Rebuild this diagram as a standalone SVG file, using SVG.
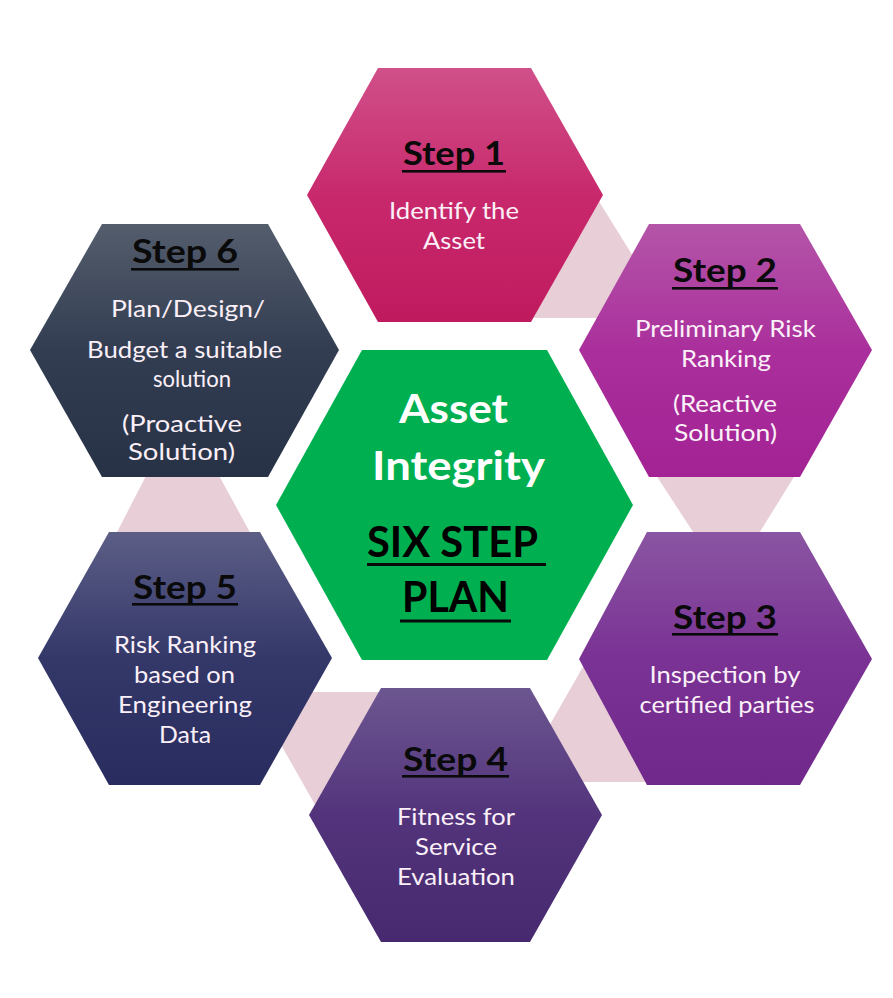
<svg xmlns="http://www.w3.org/2000/svg" width="893" height="998" viewBox="0 0 893 998">
<style>
  .head { font-family: Lato, "Open Sans", "Liberation Sans", sans-serif; font-weight: 700; font-size: 32px; fill: #0a0a0a; text-anchor: middle; }
  .body { font-family: Lato, "Open Sans", "Liberation Sans", sans-serif; font-weight: 400; font-size: 24px; fill: #fbf0f8; text-anchor: middle; }
  .ctitle { font-family: Lato, "Open Sans", "Liberation Sans", sans-serif; font-weight: 700; font-size: 41px; fill: #ffffff; text-anchor: middle; }
  .cplan { font-family: Lato, "Open Sans", "Liberation Sans", sans-serif; font-weight: 700; font-size: 42px; fill: #000000; text-anchor: middle; }
  .ul { fill: #0a0a0a; }
  .conn { fill: #e8ced7; }
</style>
<defs>
  <linearGradient id="g1" x1="0" y1="0" x2="0" y2="1">
    <stop offset="0" stop-color="#d0508a"/><stop offset="0.5" stop-color="#c8296c"/><stop offset="1" stop-color="#c01a5f"/>
  </linearGradient>
  <linearGradient id="g2" x1="0" y1="0" x2="0" y2="1">
    <stop offset="0" stop-color="#b455a8"/><stop offset="0.5" stop-color="#aa2f9c"/><stop offset="1" stop-color="#a32294"/>
  </linearGradient>
  <linearGradient id="g3" x1="0" y1="0" x2="0" y2="1">
    <stop offset="0" stop-color="#8a55a2"/><stop offset="0.5" stop-color="#7a3294"/><stop offset="1" stop-color="#70288b"/>
  </linearGradient>
  <linearGradient id="g4" x1="0" y1="0" x2="0" y2="1">
    <stop offset="0" stop-color="#6c5690"/><stop offset="0.5" stop-color="#53347c"/><stop offset="1" stop-color="#46296e"/>
  </linearGradient>
  <linearGradient id="g5" x1="0" y1="0" x2="0" y2="1">
    <stop offset="0" stop-color="#5c5e86"/><stop offset="0.5" stop-color="#343869"/><stop offset="1" stop-color="#292c5e"/>
  </linearGradient>
  <linearGradient id="g6" x1="0" y1="0" x2="0" y2="1">
    <stop offset="0" stop-color="#535d6c"/><stop offset="0.5" stop-color="#333d52"/><stop offset="1" stop-color="#283246"/>
  </linearGradient>
</defs>
<rect width="893" height="998" fill="#ffffff"/>

<g id="connectors">
  <polygon class="conn" points="595,195 636,261 610,318 533,318 560,250"/>
  <polygon class="conn" points="654,472 797,472 758,535 695,535"/>
  <polygon class="conn" points="588,658 548,728 575,782 650,782"/>
  <polygon class="conn" points="300,692 390,692 330,800 318,810 276,736"/>
  <polygon class="conn" points="148,472 217,472 252,536 115,536"/>
</g>

<g id="step1">
  <polygon points="378,68 531,68 603,195 531,322 378,322 307,195" fill="url(#g1)"/>
  <text class="head" x="454" y="165" textLength="102" lengthAdjust="spacingAndGlyphs">Step 1</text>
  <rect class="ul" x="402" y="170" width="104" height="2.6"/>
  <text class="body" x="454" y="219" textLength="130" lengthAdjust="spacingAndGlyphs">Identify the</text>
  <text class="body" x="454" y="249" textLength="62" lengthAdjust="spacingAndGlyphs">Asset</text>
</g>

<g id="step2">
  <polygon points="649,224 800,224 872,350 800,477 649,477 579,350" fill="url(#g2)"/>
  <text class="head" x="725" y="282" textLength="104" lengthAdjust="spacingAndGlyphs">Step 2</text>
  <rect class="ul" x="672" y="287" width="106" height="2.6"/>
  <text class="body" x="725.5" y="337" textLength="181" lengthAdjust="spacingAndGlyphs">Preliminary Risk</text>
  <text class="body" x="726" y="367" textLength="90" lengthAdjust="spacingAndGlyphs">Ranking</text>
  <text class="body" x="725" y="412" textLength="104" lengthAdjust="spacingAndGlyphs">(Reactive</text>
  <text class="body" x="725.5" y="441" textLength="103" lengthAdjust="spacingAndGlyphs">Solution)</text>
</g>

<g id="step3">
  <polygon points="647,532 800,532 872,659 800,785 647,785 579,659" fill="url(#g3)"/>
  <text class="head" x="725" y="629" textLength="104" lengthAdjust="spacingAndGlyphs">Step 3</text>
  <rect class="ul" x="672" y="633" width="106" height="2.6"/>
  <text class="body" x="725" y="683" textLength="151" lengthAdjust="spacingAndGlyphs">Inspection by</text>
  <text class="body" x="727" y="713" textLength="175" lengthAdjust="spacingAndGlyphs">certified parties</text>
</g>

<g id="step4">
  <polygon points="381,688 530,688 602,815 530,942 381,942 309,815" fill="url(#g4)"/>
  <text class="head" x="455.5" y="771" textLength="105" lengthAdjust="spacingAndGlyphs">Step 4</text>
  <rect class="ul" x="402" y="775" width="107" height="2.6"/>
  <text class="body" x="456" y="825" textLength="118" lengthAdjust="spacingAndGlyphs">Fitness for</text>
  <text class="body" x="456" y="855" textLength="82" lengthAdjust="spacingAndGlyphs">Service</text>
  <text class="body" x="456" y="885" textLength="118" lengthAdjust="spacingAndGlyphs">Evaluation</text>
</g>

<g id="step5">
  <polygon points="109,532 260,532 332,658 260,785 109,785 38,658" fill="url(#g5)"/>
  <text class="head" x="185" y="599" textLength="104" lengthAdjust="spacingAndGlyphs">Step 5</text>
  <rect class="ul" x="132" y="603" width="106" height="2.6"/>
  <text class="body" x="185" y="653" textLength="142" lengthAdjust="spacingAndGlyphs">Risk Ranking</text>
  <text class="body" x="184.5" y="683" textLength="101" lengthAdjust="spacingAndGlyphs">based on</text>
  <text class="body" x="185" y="713" textLength="134" lengthAdjust="spacingAndGlyphs">Engineering</text>
  <text class="body" x="185" y="743" textLength="52" lengthAdjust="spacingAndGlyphs">Data</text>
</g>

<g id="step6">
  <polygon points="102,224 268,224 339,350 268,477 102,477 30,350" fill="url(#g6)"/>
  <text class="head" x="185" y="263" textLength="106" lengthAdjust="spacingAndGlyphs">Step 6</text>
  <rect class="ul" x="131" y="268" width="108" height="2.6"/>
  <text class="body" x="188" y="317" textLength="154" lengthAdjust="spacingAndGlyphs">Plan/Design/</text>
  <text class="body" x="184.5" y="358" textLength="195" lengthAdjust="spacingAndGlyphs">Budget a suitable</text>
  <text class="body" x="192" y="387" textLength="78" lengthAdjust="spacingAndGlyphs">solution</text>
  <text class="body" x="182" y="432" textLength="120" lengthAdjust="spacingAndGlyphs">(Proactive</text>
  <text class="body" x="181.5" y="460" textLength="107" lengthAdjust="spacingAndGlyphs">Solution)</text>
</g>

<g id="center">
  <polygon points="362,350 547,350 633,505 547,660 362,660 276,505" fill="#00b050"/>
  <text class="ctitle" x="453.5" y="423" textLength="109" lengthAdjust="spacingAndGlyphs">Asset</text>
  <text class="ctitle" x="458.5" y="480" textLength="173" lengthAdjust="spacingAndGlyphs">Integrity</text>
  <text class="cplan" x="452.5" y="557" textLength="171" lengthAdjust="spacingAndGlyphs">SIX STEP</text>
  <rect class="ul" x="367" y="563" width="179" height="3"/>
  <text class="cplan" x="455.5" y="612" textLength="107" lengthAdjust="spacingAndGlyphs">PLAN</text>
  <rect class="ul" x="400" y="619.5" width="111" height="3"/>
</g>
</svg>
